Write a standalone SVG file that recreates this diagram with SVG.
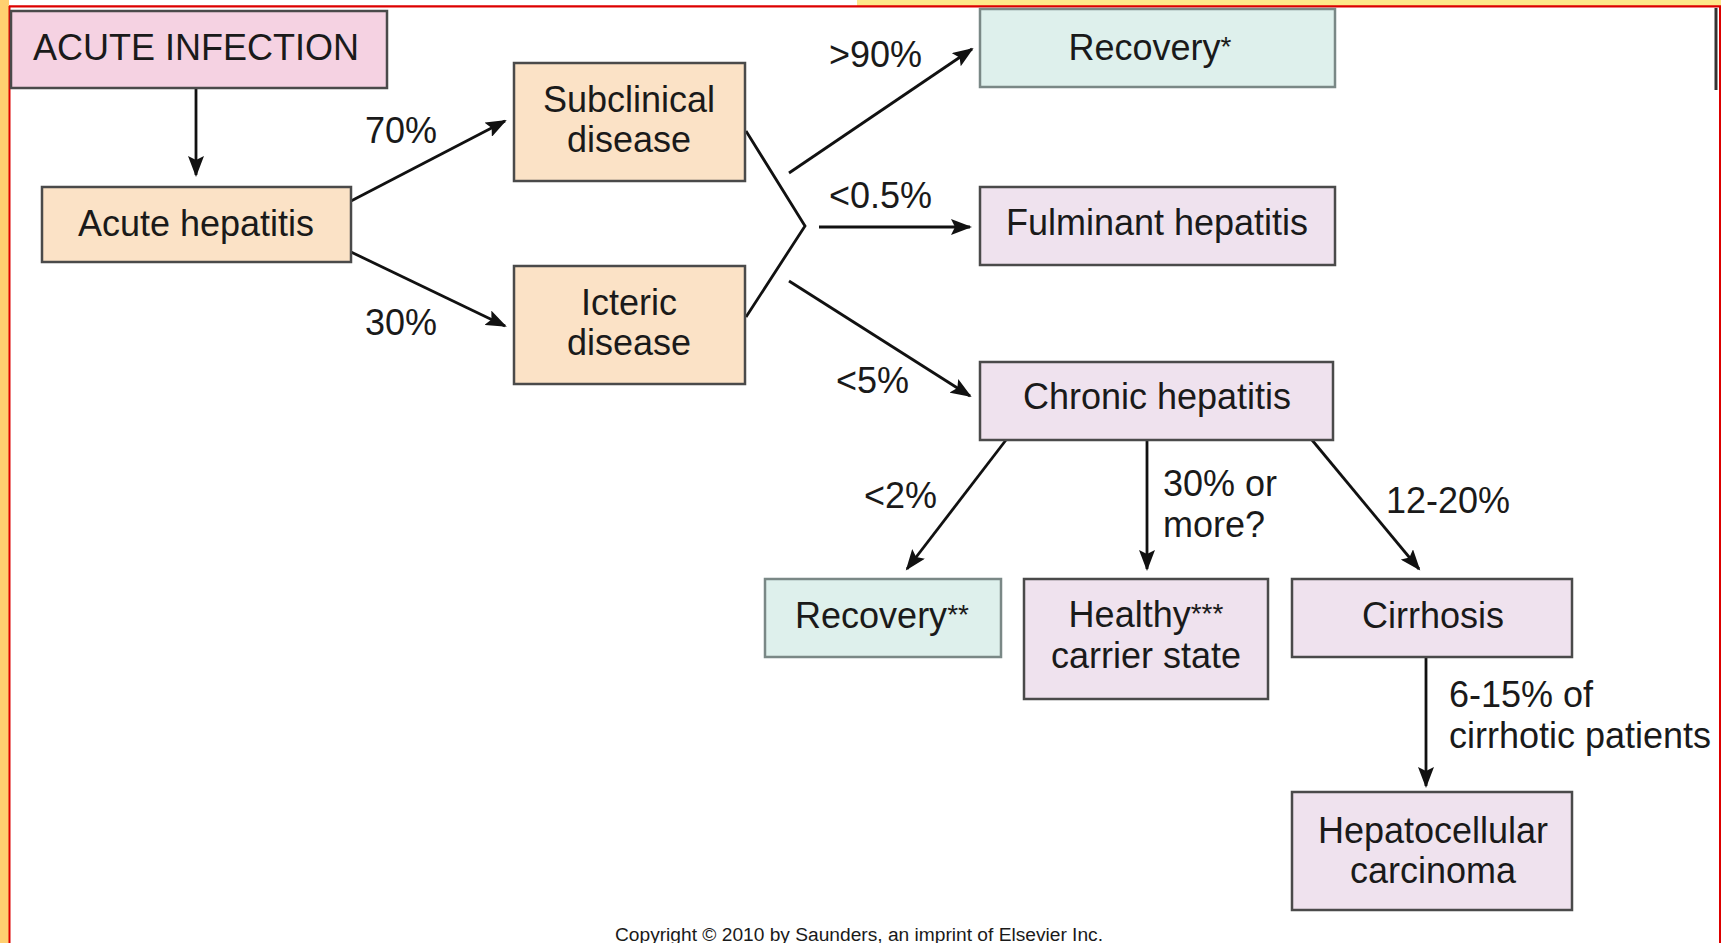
<svg xmlns="http://www.w3.org/2000/svg" width="1721" height="943" viewBox="0 0 1721 943">
<style>
.box{stroke:#4a4a4a;stroke-width:2.5}
.peach{fill:#fbe2c6}
.pink{fill:#f5d2e2}
.lav{fill:#efe2ee}
.teal{fill:#def0ec;stroke:#7a8886}
text{font-family:"Liberation Sans",Arial,Helvetica,sans-serif;font-size:36px;fill:#1a1a1a}
.c{text-anchor:middle}
.ast{font-size:28px}
.edge{stroke:#111;stroke-width:2.8;fill:none;marker-end:url(#ah)}
.plain{stroke:#111;stroke-width:2.8;fill:none}
</style>
<defs>
<marker id="ah" markerUnits="userSpaceOnUse" markerWidth="22" markerHeight="16" refX="19" refY="8" orient="auto">
<path d="M0,0 L21,8 L0,16 L4,8 z" fill="#111"/>
</marker>
</defs>
<rect x="0" y="0" width="1721" height="943" fill="#ffffff"/>
<rect x="0" y="0" width="9" height="943" fill="#ffd070"/>
<rect x="857" y="0" width="864" height="6" fill="#fee88a"/>
<line x1="9" y1="6.3" x2="1721" y2="6.3" stroke="#dd0000" stroke-width="2.2"/>
<line x1="9.5" y1="6" x2="9.5" y2="943" stroke="#dd0000" stroke-width="2"/>
<line x1="1720" y1="6" x2="1720" y2="943" stroke="#dd0000" stroke-width="2"/>
<line x1="1716" y1="8" x2="1716" y2="90" stroke="#333" stroke-width="3"/>

<g id="connectors">
<line class="edge" x1="196" y1="88" x2="196" y2="175"/>
<line class="edge" x1="351" y1="201" x2="505" y2="121"/>
<line class="edge" x1="351" y1="252" x2="505" y2="326"/>
<polyline class="plain" points="746,131 805,226 746,317"/>
<line class="edge" x1="789" y1="173" x2="972" y2="49"/>
<line class="edge" x1="819" y1="227" x2="970" y2="227"/>
<line class="edge" x1="789" y1="281" x2="970" y2="396"/>
<line class="edge" x1="1006" y1="440" x2="907" y2="569"/>
<line class="edge" x1="1147" y1="440" x2="1147" y2="569"/>
<line class="edge" x1="1312" y1="440" x2="1419" y2="569"/>
<line class="edge" x1="1426" y1="657" x2="1426" y2="786"/>
<text x="365" y="143">70%</text>
<text x="365" y="335">30%</text>
<text x="829" y="67">&gt;90%</text>
<text x="829" y="208">&lt;0.5%</text>
<text x="836" y="393">&lt;5%</text>
<text x="864" y="508">&lt;2%</text>
<text x="1163" y="496">30% or</text>
<text x="1163" y="537">more?</text>
<text x="1386" y="513">12-20%</text>
<text x="1449" y="707">6-15% of</text>
<text x="1449" y="748">cirrhotic patients</text>
</g>

<g id="acute-infection">
<rect class="box pink" x="11" y="11" width="376" height="77"/>
<text class="c" x="196" y="60">ACUTE INFECTION</text>
</g>
<g id="acute-hepatitis">
<rect class="box peach" x="42" y="187" width="309" height="75"/>
<text class="c" x="196" y="236">Acute hepatitis</text>
</g>
<g id="subclinical">
<rect class="box peach" x="514" y="63" width="231" height="118"/>
<text class="c" x="629" y="112">Subclinical</text>
<text class="c" x="629" y="152">disease</text>
</g>
<g id="icteric">
<rect class="box peach" x="514" y="266" width="231" height="118"/>
<text class="c" x="629" y="315">Icteric</text>
<text class="c" x="629" y="355">disease</text>
</g>
<g id="recovery1">
<rect class="box teal" x="980" y="9" width="355" height="78"/>
<text class="c" x="1150" y="60">Recovery<tspan class="ast" dy="-4">*</tspan></text>
</g>
<g id="fulminant">
<rect class="box lav" x="980" y="187" width="355" height="78"/>
<text class="c" x="1157" y="235">Fulminant hepatitis</text>
</g>
<g id="chronic">
<rect class="box lav" x="980" y="362" width="353" height="78"/>
<text class="c" x="1157" y="409">Chronic hepatitis</text>
</g>
<g id="recovery2">
<rect class="box teal" x="765" y="579" width="236" height="78"/>
<text class="c" x="882" y="628">Recovery<tspan class="ast" dy="-4">**</tspan></text>
</g>
<g id="healthy-carrier">
<rect class="box lav" x="1024" y="579" width="244" height="120"/>
<text class="c" x="1146" y="627">Healthy<tspan class="ast" dy="-4">***</tspan></text>
<text class="c" x="1146" y="668">carrier state</text>
</g>
<g id="cirrhosis">
<rect class="box lav" x="1292" y="579" width="280" height="78"/>
<text class="c" x="1433" y="628">Cirrhosis</text>
</g>
<g id="hcc">
<rect class="box lav" x="1292" y="792" width="280" height="118"/>
<text class="c" x="1433" y="843">Hepatocellular</text>
<text class="c" x="1433" y="883">carcinoma</text>
</g>
<text x="615" y="941" style="font-size:18px" textLength="488" lengthAdjust="spacingAndGlyphs">Copyright © 2010 by Saunders, an imprint of Elsevier Inc.</text>
</svg>
